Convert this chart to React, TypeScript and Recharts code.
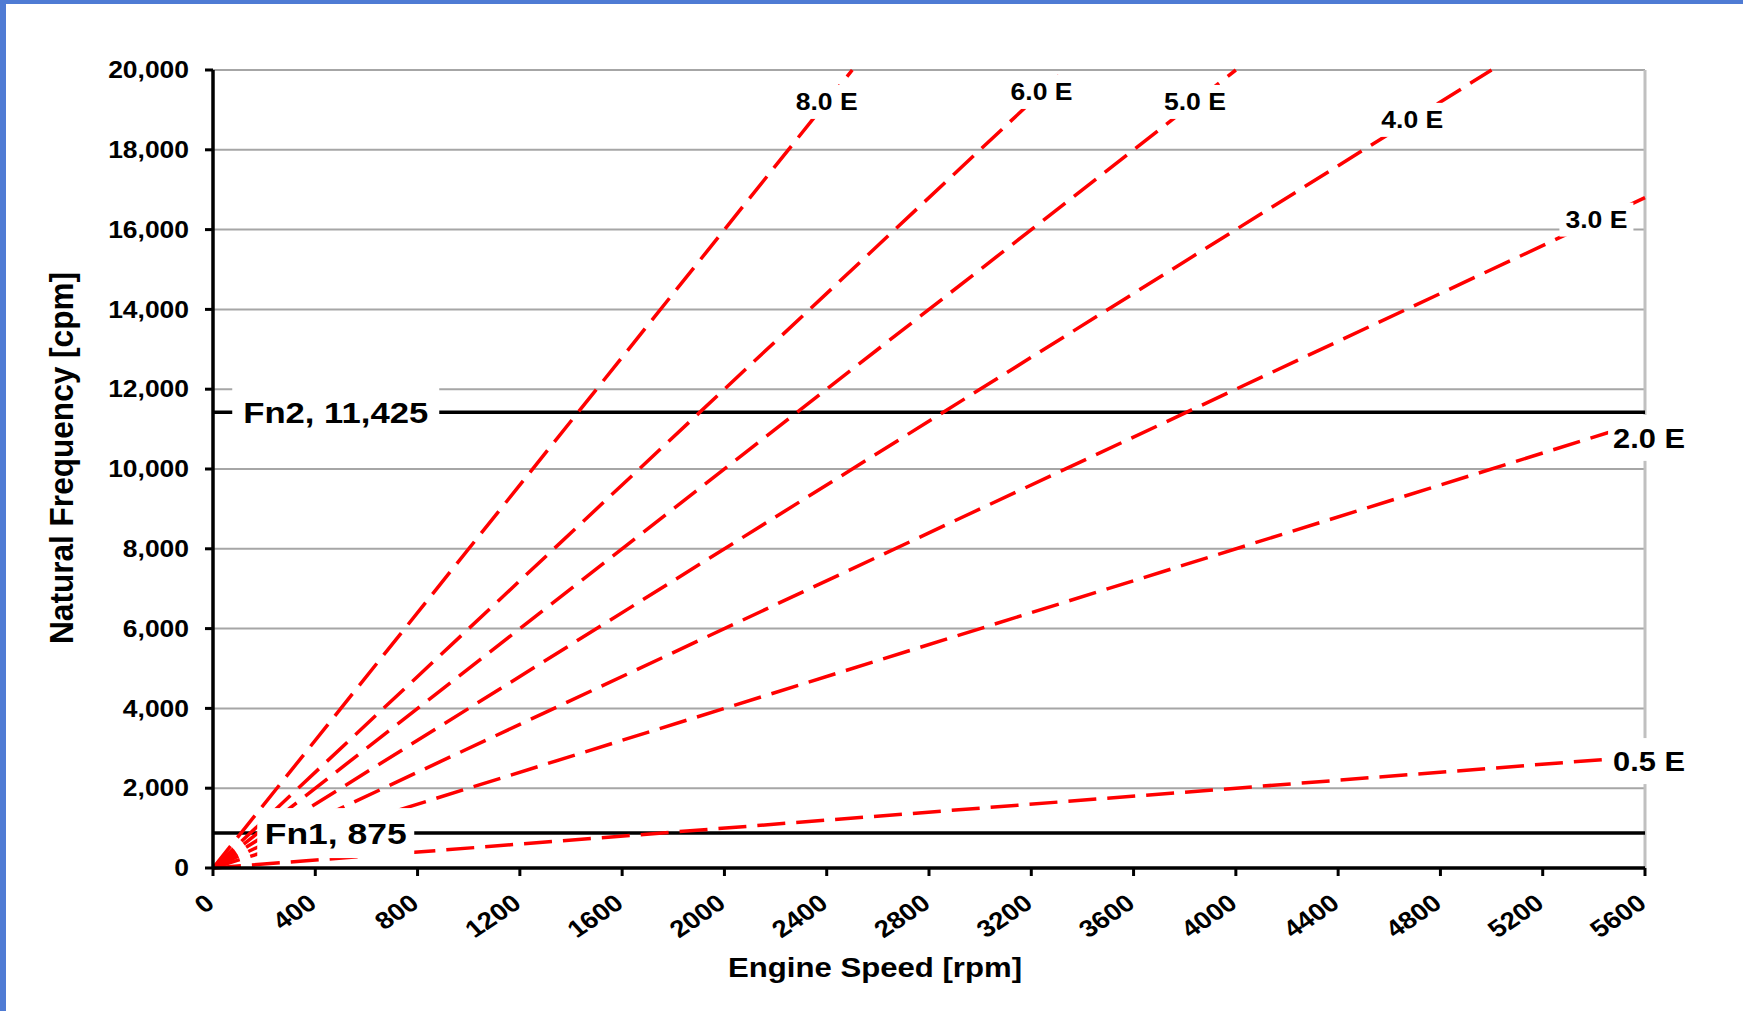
import { LineChart, Line, XAxis, YAxis, CartesianGrid, ReferenceLine, ReferenceDot, Label } from "recharts";

const FONT = "'Liberation Sans', Arial, sans-serif";

// axis ticks
const rpmTicks = [0, 400, 800, 1200, 1600, 2000, 2400, 2800, 3200, 3600, 4000, 4400, 4800, 5200, 5600];
const cpmTicks = [0, 2000, 4000, 6000, 8000, 10000, 12000, 14000, 16000, 18000, 20000];

// engine order lines (start at origin, end where they leave the plot)
const orderNames = ["0.5 E", "2.0 E", "3.0 E", "4.0 E", "5.0 E", "6.0 E", "8.0 E"];
const orderEndRpm = [5600, 5600, 5600, 5000, 4000, 3333, 2500];
const orderEndCpm = [2800, 11200, 16800, 20000, 20000, 20000, 20000];

// where each order tag sits
const tagRpm = [5616, 5616, 5410, 4690, 3840, 3240, 2400];
const tagCpm = [2680, 10780, 16250, 18750, 19200, 19450, 19200];
const tagBig = [true, true, false, false, false, false, false];

// natural frequencies
const fnNames = ["Fn1, 875", "Fn2, 11,425"];
const fnValues = [875, 11425];
const fnTagRpm = 480;

const series = orderNames.map((name, i) => ({
  name,
  data: [
    { rpm: 0, cpm: 0 },
    { rpm: orderEndRpm[i], cpm: orderEndCpm[i] },
  ],
}));

const Tag = ({ cx, cy, text, size, textW, boxW, boxH }: any) => {
  if (cx == null || cy == null) return null;
  return (
    <g>
      <rect x={cx - boxW / 2} y={cy - boxH / 2} width={boxW} height={boxH} fill="#fff" />
      <text
        x={cx}
        y={cy}
        dy="0.36em"
        textAnchor="middle"
        fontFamily={FONT}
        fontWeight="bold"
        fontSize={size}
        fill="#000"
        textLength={textW}
        lengthAdjust="spacingAndGlyphs"
      >
        {text}
      </text>
    </g>
  );
};

const YTick = ({ x, y, payload }: any) => (
  <g transform={`translate(${x},${y}) scale(1.15,1)`}>
    <text textAnchor="end" dy="0.36em" fontFamily={FONT} fontWeight="bold" fontSize={23} fill="#000">
      {Number(payload.value).toLocaleString("en-US")}
    </text>
  </g>
);

const XTick = ({ x, y, payload }: any) => (
  <g transform={`translate(${x + 3},${y}) scale(1.15,1) rotate(-38)`}>
    <text textAnchor="end" fontFamily={FONT} fontWeight="bold" fontSize={24} fill="#000">
      {payload.value}
    </text>
  </g>
);

export default function App() {
  return (
    <div style={{ position: "absolute", left: 0, top: 0, width: 1743, height: 1011, background: "#fff", overflow: "hidden" }}>
      <LineChart width={1743} height={1011} margin={{ top: 70, right: 98, bottom: 0, left: 0 }}>
        <CartesianGrid vertical={false} stroke="#a6a6a6" strokeWidth={2} />
        <ReferenceLine x={5600} stroke="#c0c0c0" strokeWidth={3} />
        {fnValues.map((v) => (
          <ReferenceLine key={v} y={v} stroke="#000" strokeWidth={3.5} />
        ))}
        <XAxis
          type="number"
          dataKey="rpm"
          domain={[0, 5600]}
          ticks={rpmTicks}
          interval={0}
          height={143}
          tickSize={8}
          tickMargin={30}
          axisLine={{ stroke: "#000", strokeWidth: 3.5 }}
          tickLine={{ stroke: "#000", strokeWidth: 3 }}
          tick={<XTick />}
        >
          <Label
            content={(p: any) => {
              const vb = p.viewBox || { x: 213, y: 868 };
              return (
                <text
                  x={vb.x + 662}
                  y={vb.y + 109}
                  textAnchor="middle"
                  fontFamily={FONT}
                  fontWeight="bold"
                  fontSize={28}
                  fill="#000"
                  textLength={294}
                  lengthAdjust="spacingAndGlyphs"
                >
                  Engine Speed [rpm]
                </text>
              );
            }}
          />
        </XAxis>
        <YAxis
          type="number"
          domain={[0, 20000]}
          ticks={cpmTicks}
          interval={0}
          width={213}
          tickSize={8}
          tickMargin={16}
          axisLine={{ stroke: "#000", strokeWidth: 3.5 }}
          tickLine={{ stroke: "#000", strokeWidth: 3 }}
          tick={<YTick />}
        >
          <Label
            content={(p: any) => {
              const vb = p.viewBox || { x: 0, y: 70 };
              return (
                <g transform={`translate(${vb.x + 73},${vb.y + 388}) scale(1.15,1) rotate(-90)`}>
                  <text
                    textAnchor="middle"
                    fontFamily={FONT}
                    fontWeight="bold"
                    fontSize={29}
                    fill="#000"
                    textLength={372}
                    lengthAdjust="spacingAndGlyphs"
                  >
                    Natural Frequency [cpm]
                  </text>
                </g>
              );
            }}
          />
        </YAxis>
        {series.map((s) => (
          <Line
            key={s.name}
            data={s.data}
            dataKey="cpm"
            type="linear"
            stroke="#ff0000"
            strokeWidth={3.5}
            strokeDasharray="28 11"
            dot={false}
            activeDot={false}
            isAnimationActive={false}
          />
        ))}
        {fnNames.map((name, i) => (
          <ReferenceDot
            key={name}
            x={fnTagRpm}
            y={fnValues[i]}
            ifOverflow="visible"
            shape={(p: any) => (
              <Tag
                cx={p.cx}
                cy={p.cy}
                text={name}
                size={30}
                textW={i === 0 ? 142 : 185}
                boxW={i === 0 ? 157 : 207}
                boxH={50}
              />
            )}
          />
        ))}
        {orderNames.map((name, i) => (
          <ReferenceDot
            key={name}
            x={tagRpm[i]}
            y={tagCpm[i]}
            ifOverflow="visible"
            shape={(p: any) => (
              <Tag
                cx={p.cx}
                cy={p.cy}
                text={name}
                size={tagBig[i] ? 27 : 23}
                textW={tagBig[i] ? 72 : 62}
                boxW={tagBig[i] ? 82 : 74}
                boxH={tagBig[i] ? 46 : 34}
              />
            )}
          />
        ))}
      </LineChart>
      <div style={{ position: "absolute", left: 0, top: 0, width: 1743, height: 4, background: "#4f7bd4" }} />
      <div style={{ position: "absolute", left: 0, top: 0, width: 6, height: 1011, background: "#4f7bd4" }} />
    </div>
  );
}
